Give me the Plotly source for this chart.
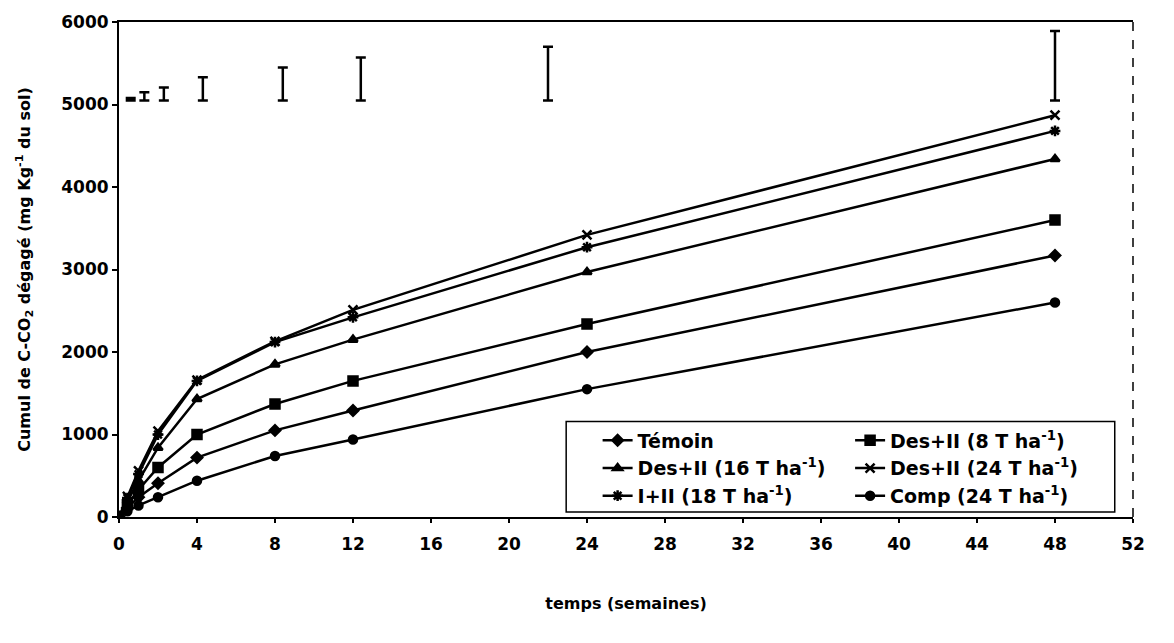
import plotly.graph_objects as go

weeks = [0, 0.43, 1, 2, 4, 8, 12, 24, 48]

temoin = [0, 110, 240, 410, 720, 1050, 1290, 2000, 3170]
des8 = [0, 150, 330, 600, 1000, 1370, 1650, 2340, 3600]
des16 = [0, 190, 440, 840, 1430, 1850, 2150, 2970, 4340]
des24 = [0, 250, 560, 1040, 1660, 2130, 2510, 3420, 4870]
i_ii = [0, 230, 520, 1000, 1650, 2120, 2420, 3270, 4680]
comp = [0, 70, 140, 240, 440, 740, 940, 1550, 2600]

err_x = [0.6, 1.3, 2.3, 4.3, 8.4, 12.4, 22, 48]
err_base = [5050, 5050, 5050, 5050, 5050, 5050, 5050, 5050]
err_up = [30, 100, 155, 280, 400, 520, 650, 840]

names = ["Témoin", "Des+II (8 T ha<sup>-1</sup>)", "Des+II (16 T ha<sup>-1</sup>)",
         "Des+II (24 T ha<sup>-1</sup>)", "I+II (18 T ha<sup>-1</sup>)", "Comp (24 T ha<sup>-1</sup>)"]
series = [temoin, des8, des16, des24, i_ii, comp]
symbols = ["diamond", "square", "triangle-up", "x-thin-open", "asterisk-open", "circle"]
sizes = [8, 9, 8, 9, 9, 8]
legends = ["legend", "legend2", "legend", "legend2", "legend", "legend2"]

fig = go.Figure()
for i, (nm, ys) in enumerate(zip(names, series)):
    fig.add_trace(go.Scatter(
        x=weeks, y=ys, name=nm, mode="lines+markers",
        line=dict(color="black", width=2.5),
        marker=dict(symbol=symbols[i], size=sizes[i], color="black",
                    line=dict(color="black", width=2.5)),
        legend=legends[i], legendgroup="g%d" % i,
    ))

fig.add_trace(go.Scatter(
    x=err_x, y=err_base, mode="markers", marker=dict(size=1, color="rgba(0,0,0,0)"),
    showlegend=False,
    error_y=dict(type="data", symmetric=False, array=err_up,
                 arrayminus=[0] * len(err_up), color="black", thickness=2.5, width=5),
))

FONT = "DejaVu Sans"
tickfont = dict(family=FONT, size=17, color="black", weight="bold")
legfont = dict(family=FONT, size=19, color="black", weight="bold")

fig.update_layout(
    width=1174, height=643,
    margin=dict(l=119, r=41, t=14, b=126),
    paper_bgcolor="white", plot_bgcolor="white",
    xaxis=dict(range=[0, 52], tickvals=list(range(0, 53, 4)), showgrid=False, zeroline=False,
               showline=True, linecolor="black", linewidth=2, mirror=True,
               ticks="outside", ticklen=4, tickwidth=1.5, tickcolor="black",
               tickfont=tickfont, ticklabelstandoff=7,
               title=dict(text="temps (semaines)", font=dict(family=FONT, size=16,
                                                            color="black", weight="bold"),
                          standoff=44)),
    yaxis=dict(range=[0, 6000], tickvals=list(range(0, 6001, 1000)), showgrid=False, zeroline=False,
               showline=True, linecolor="black", linewidth=2,
               ticks="outside", ticklen=5, tickwidth=1.5, tickcolor="black",
               tickfont=tickfont,
               title=dict(text="Cumul de C-CO<sub>2</sub> dégagé (mg Kg<sup>-1</sup> du sol)",
                          font=dict(family=FONT, size=16, color="black", weight="bold"),
                          standoff=27)),
    legend=dict(x=0.472, y=0.193, xanchor="left", yanchor="top", bgcolor="rgba(0,0,0,0)",
                font=legfont, tracegroupgap=0, borderwidth=0),
    legend2=dict(x=0.721, y=0.193, xanchor="left", yanchor="top", bgcolor="rgba(0,0,0,0)",
                 font=legfont, tracegroupgap=0, borderwidth=0),
    shapes=[
        dict(type="rect", xref="paper", yref="paper", x0=0.441, x1=0.982, y0=0.01, y1=0.193,
             line=dict(color="black", width=1.5), fillcolor="white", layer="above"),
        dict(type="line", xref="paper", yref="paper", x0=1, x1=1, y0=0, y1=1,
             line=dict(color="black", width=1.5, dash="dash")),
    ],
)

fig.write_html("out.html")
